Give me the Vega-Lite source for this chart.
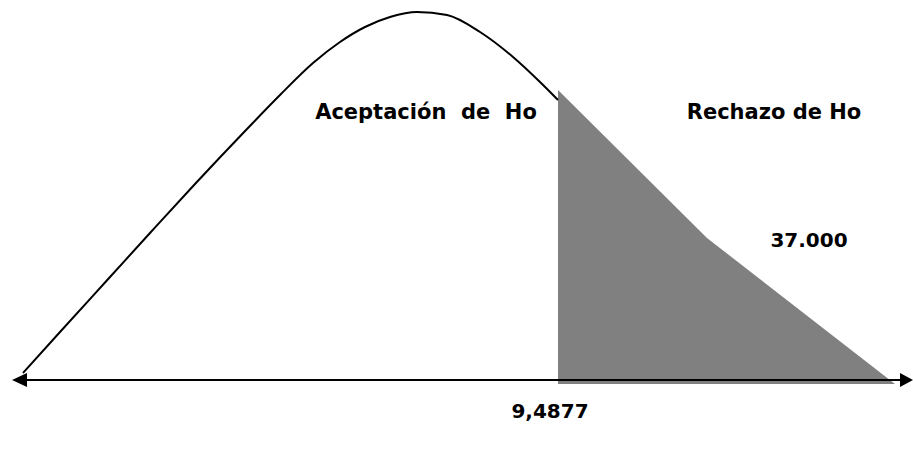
{
  "$schema": "https://vega.github.io/schema/vega-lite/v6.json",
  "width": 913,
  "height": 451,
  "padding": 0,
  "autosize": {"type": "fit", "contains": "padding"},
  "background": "white",
  "config": {"view": {"stroke": null}},
  "datasets": {
    "curve": [
      {"x": 23, "y": 78}, {"x": 60, "y": 119}, {"x": 110, "y": 174}, {"x": 150, "y": 218},
      {"x": 195, "y": 267}, {"x": 247, "y": 322}, {"x": 280, "y": 356}, {"x": 313, "y": 388},
      {"x": 340, "y": 409}, {"x": 365, "y": 424}, {"x": 390, "y": 434}, {"x": 417, "y": 439},
      {"x": 447, "y": 436}, {"x": 480, "y": 419}, {"x": 513, "y": 394}, {"x": 540, "y": 369},
      {"x": 558, "y": 351}
    ],
    "region": [
      {"x": 558, "top": 361, "base": 67},
      {"x": 707, "top": 213, "base": 67},
      {"x": 895, "top": 67, "base": 67}
    ],
    "axisline": [{"x": 14, "y": 71}, {"x": 906, "y": 71}],
    "arrowL": [{"x": 19.5, "y": 71}],
    "arrowR": [{"x": 906.5, "y": 71}],
    "heads": [
      {"x": 426, "y": 332, "t": "Aceptación\u00a0 de\u00a0 Ho"},
      {"x": 774, "y": 332, "t": "Rechazo de Ho"}
    ],
    "nums": [
      {"x": 809, "y": 204, "t": "37.000"},
      {"x": 550, "y": 33, "t": "9,4877"}
    ]
  },
  "layer": [
    {
      "data": {"name": "region"},
      "mark": {"type": "area", "color": "#808080", "interpolate": "linear"},
      "encoding": {
        "x": {"field": "x", "type": "quantitative", "scale": {"domain": [0, 913]}, "axis": null},
        "y": {"field": "top", "type": "quantitative", "scale": {"domain": [0, 451]}, "axis": null},
        "y2": {"field": "base"}
      }
    },
    {
      "data": {"name": "curve"},
      "mark": {"type": "line", "color": "black", "strokeWidth": 2, "interpolate": "monotone"},
      "encoding": {
        "x": {"field": "x", "type": "quantitative", "scale": {"domain": [0, 913]}, "axis": null},
        "y": {"field": "y", "type": "quantitative", "scale": {"domain": [0, 451]}, "axis": null}
      }
    },
    {
      "data": {"name": "axisline"},
      "mark": {"type": "line", "color": "black", "strokeWidth": 2.2},
      "encoding": {
        "x": {"field": "x", "type": "quantitative", "scale": {"domain": [0, 913]}, "axis": null},
        "y": {"field": "y", "type": "quantitative", "scale": {"domain": [0, 451]}, "axis": null}
      }
    },
    {
      "data": {"name": "arrowL"},
      "mark": {"type": "point", "filled": true, "color": "black", "opacity": 1, "shape": "M-1,0L1,-0.93L1,0.93Z", "size": 225},
      "encoding": {
        "x": {"field": "x", "type": "quantitative", "scale": {"domain": [0, 913]}, "axis": null},
        "y": {"field": "y", "type": "quantitative", "scale": {"domain": [0, 451]}, "axis": null}
      }
    },
    {
      "data": {"name": "arrowR"},
      "mark": {"type": "point", "filled": true, "color": "black", "opacity": 1, "shape": "M1,0L-1,-1.08L-1,1.08Z", "size": 169},
      "encoding": {
        "x": {"field": "x", "type": "quantitative", "scale": {"domain": [0, 913]}, "axis": null},
        "y": {"field": "y", "type": "quantitative", "scale": {"domain": [0, 451]}, "axis": null}
      }
    },
    {
      "data": {"name": "heads"},
      "mark": {"type": "text", "font": "DejaVu Sans", "fontWeight": "bold", "fontSize": 21, "align": "center", "baseline": "alphabetic", "color": "black"},
      "encoding": {
        "x": {"field": "x", "type": "quantitative", "scale": {"domain": [0, 913]}, "axis": null},
        "y": {"field": "y", "type": "quantitative", "scale": {"domain": [0, 451]}, "axis": null},
        "text": {"field": "t"}
      }
    },
    {
      "data": {"name": "nums"},
      "mark": {"type": "text", "font": "DejaVu Sans", "fontWeight": "bold", "fontSize": 20, "align": "center", "baseline": "alphabetic", "color": "black"},
      "encoding": {
        "x": {"field": "x", "type": "quantitative", "scale": {"domain": [0, 913]}, "axis": null},
        "y": {"field": "y", "type": "quantitative", "scale": {"domain": [0, 451]}, "axis": null},
        "text": {"field": "t"}
      }
    }
  ]
}
